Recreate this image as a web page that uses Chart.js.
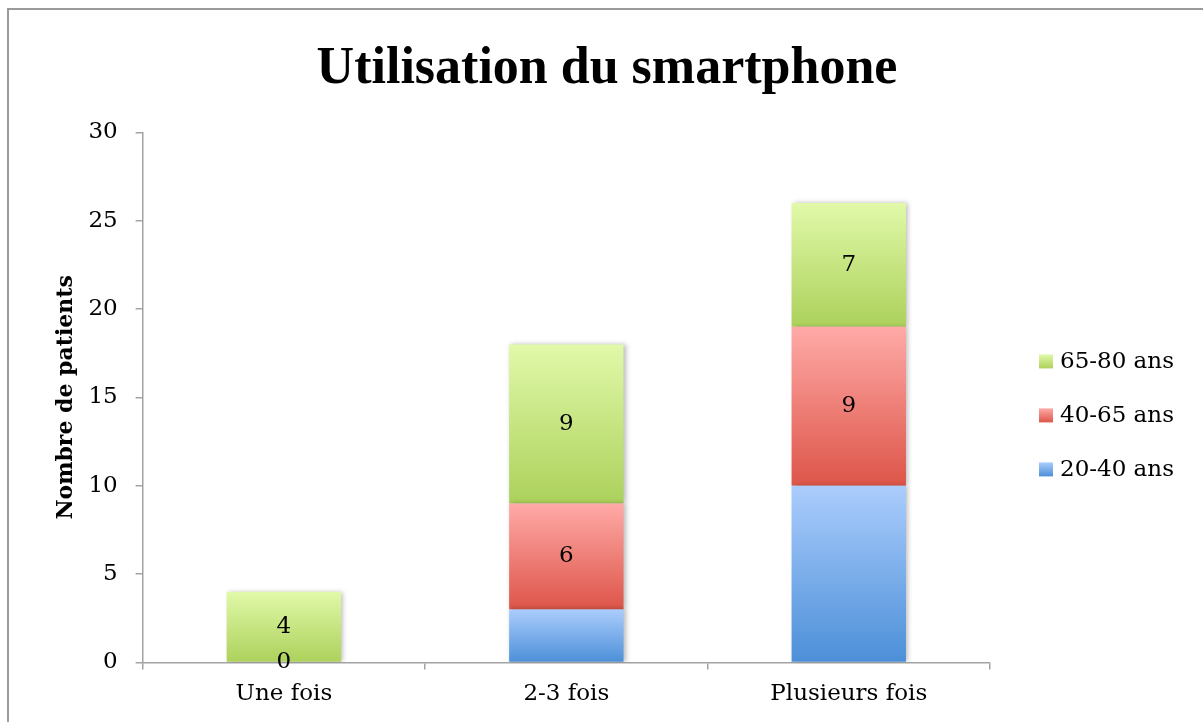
<!DOCTYPE html>
<html lang="fr">
<head>
<meta charset="utf-8">
<title>Utilisation du smartphone</title>
<script src="https://cdn.jsdelivr.net/npm/chart.js"></script>
<style>
  html, body { margin: 0; padding: 0; background: #fff; overflow: hidden; }
  #frame { position: absolute; left: 7px; top: 8px; width: 1300px; height: 800px;
           border-left: 2px solid #9a9a9a; border-top: 2px solid #9a9a9a; }
  #wrap { position: absolute; left: 0; top: 0; width: 1203px; height: 722px; }
</style>
</head>
<body>
<div id="frame"></div>
<div id="wrap"><canvas id="myChart"></canvas></div>
<script>
const categories = ['Une fois', '2-3 fois', 'Plusieurs fois'];
const seriesNames = ['20-40 ans', '40-65 ans', '65-80 ans'];
const values2040 = [0, 3, 10];
const values4065 = [0, 6, 9];
const values6580 = [4, 9, 7];
const yTicks = [0, 5, 10, 15, 20, 25, 30];

const allSeries = [values2040, values4065, values6580];
// light top / darker bottom, like the office gradient fill
const fills = [
  { top: '#abcdfd', bottom: '#4c8fd8' },
  { top: '#ffaaa7', bottom: '#dd5549' },
  { top: '#e1f9a9', bottom: '#acd15b' }
];
const showLabels = [false, true, true];

const serif = "'DejaVu Serif', 'Liberation Serif', serif";
const fontSize = 23;

function makeGradient(c, di, y0, y1) {
  const g = c.createLinearGradient(0, y0, 0, y1);
  g.addColorStop(0, fills[di].top);
  g.addColorStop(1, fills[di].bottom);
  return g;
}

function gradientFill(di) {
  return (ctx) => {
    const chart = ctx.chart;
    if (ctx.type !== 'data' || !chart.chartArea || !chart.scales.y) return fills[di].bottom;
    const i = ctx.dataIndex;
    let base = 0;
    for (let d = 0; d < di; d++) base += allSeries[d][i] || 0;
    const v = allSeries[di][i] || 0;
    const y0 = chart.scales.y.getPixelForValue(base + v);
    const y1 = chart.scales.y.getPixelForValue(base);
    if (Math.abs(y1 - y0) < 1) return fills[di].bottom;
    return makeGradient(chart.ctx, di, y0, y1);
  };
}

const barExtras = {
  id: 'barExtras',
  beforeDatasetsDraw(chart) {
    const c = chart.ctx;
    c.save();
    c.shadowColor = 'rgba(0,0,0,0.28)';
    c.shadowBlur = 5;
    c.shadowOffsetX = 2;
    c.shadowOffsetY = 0;
  },
  afterDatasetsDraw(chart) {
    const c = chart.ctx;
    c.restore();
    c.save();
    c.font = fontSize + 'px ' + serif;
    c.fillStyle = '#000';
    c.textAlign = 'center';
    c.textBaseline = 'middle';
    chart.data.datasets.forEach((ds, di) => {
      if (!showLabels[di]) return;
      chart.getDatasetMeta(di).data.forEach((el, i) => {
        const v = ds.data[i];
        if (v === null || v === undefined) return;
        c.fillText(String(v), el.x, (el.y + el.base) / 2);
      });
    });
    c.restore();
  }
};

// legend on the right, top item = last series
const sideLegend = {
  id: 'sideLegend',
  afterDraw(chart) {
    const c = chart.ctx;
    const area = chart.chartArea;
    const boxX = area.right + 49;
    const box = 14;
    const step = 54;
    const midY = (area.top + area.bottom) / 2 + 18;
    const n = chart.data.datasets.length;
    c.save();
    c.font = fontSize + 'px ' + serif;
    c.textBaseline = 'middle';
    c.textAlign = 'left';
    chart.data.datasets.forEach((ds, di) => {
      const row = n - 1 - di;
      const cy = midY + (row - (n - 1) / 2) * step;
      c.fillStyle = makeGradient(c, di, cy - box / 2, cy + box / 2);
      c.fillRect(boxX, cy - box / 2, box, box);
      c.fillStyle = '#000';
      c.fillText(ds.label, boxX + box + 7, cy + 1);
    });
    c.restore();
  }
};

const datasets = seriesNames.map((name, di) => ({
  label: name,
  data: allSeries[di],
  backgroundColor: gradientFill(di),
  borderWidth: 0,
  barPercentage: 0.405,
  categoryPercentage: 1
}));

const axisGrey = '#a3a3a3';

new Chart(document.getElementById('myChart'), {
  type: 'bar',
  data: { labels: categories, datasets: datasets },
  options: {
    responsive: true,
    maintainAspectRatio: false,
    animation: false,
    layout: { padding: { left: 53, right: 42, top: 22, bottom: 3 } },
    plugins: {
      title: {
        display: true,
        text: 'Utilisation du smartphone',
        color: '#000',
        font: { family: "'Liberation Serif', serif", size: 52, weight: 'bold' },
        padding: { top: 16, bottom: 32 }
      },
      legend: { display: false },
      tooltip: { enabled: false }
    },
    scales: {
      x: {
        stacked: true,
        grid: { display: true, drawOnChartArea: false, offset: true, tickLength: 7, color: axisGrey, lineWidth: 1.5 },
        border: { color: axisGrey, width: 1.5 },
        ticks: { color: '#000', font: { family: serif, size: fontSize }, padding: 11 }
      },
      y: {
        stacked: true,
        min: 0,
        max: 30,
        afterBuildTicks(scale) { scale.ticks = yTicks.map(v => ({ value: v })); },
        grid: { display: true, drawOnChartArea: false, tickLength: 7, color: axisGrey, lineWidth: 1.5 },
        border: { color: axisGrey, width: 1.5 },
        ticks: { color: '#000', font: { family: serif, size: fontSize }, padding: 18 },
        title: {
          display: true,
          text: 'Nombre de patients',
          color: '#000',
          font: { family: serif, size: 22, weight: 'bold' },
          padding: { top: 0, bottom: -9 }
        }
      },
      // empty band on the right that holds the legend
      legendSpace: {
        type: 'linear',
        position: 'right',
        display: true,
        grid: { display: false },
        border: { display: false },
        ticks: { display: false },
        afterFit(scale) { scale.width = 171; }
      }
    }
  },
  plugins: [barExtras, sideLegend]
});
</script>
</body>
</html>
